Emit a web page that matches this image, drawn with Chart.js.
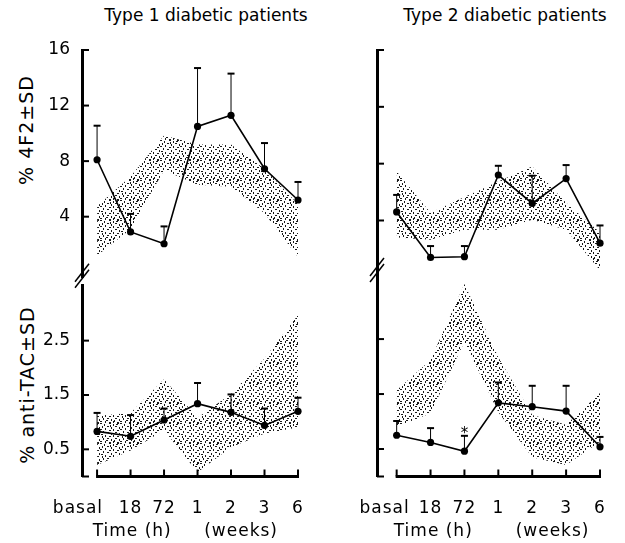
<!DOCTYPE html>
<html>
<head>
<meta charset="utf-8">
<title>4F2 and anti-TAC in diabetic patients</title>
<script src="https://cdn.jsdelivr.net/npm/chart.js@4.4.1/dist/chart.umd.min.js"></script>
<style>
  html, body { margin: 0; padding: 0; background: #fff; }
  body { position: relative; width: 625px; height: 543px; overflow: hidden; font-family: 'DejaVu Sans', sans-serif; color: #000; }
  canvas { position: absolute; }
  .head { position: absolute; width: 300px; top: 5px; text-align: center; font-size: 17px; line-height: 20px; }
  .ytitle { position: absolute; width: 220px; height: 24px; line-height: 24px; text-align: center; font-size: 19px; letter-spacing: 1px; transform: rotate(-90deg); }
</style>
</head>
<body>
<div class="head" style="left:56px">Type 1 diabetic patients</div>
<div class="head" style="left:355px">Type 2 diabetic patients</div>
<div class="ytitle" style="left:-84px;top:118px">% 4F2±SD</div>
<div class="ytitle" style="left:-83px;top:373px">% anti-TAC±SD</div>
<canvas id="c1" width="320" height="300" style="left:0;top:0"></canvas>
<canvas id="c2" width="325" height="300" style="left:300px;top:0"></canvas>
<canvas id="c3" width="320" height="280" style="left:0;top:263px"></canvas>
<canvas id="c4" width="325" height="280" style="left:300px;top:263px"></canvas>
<script>
const timeLabels = ['basal', '18', '72', '1', '2', '3', '6'];

// % 4F2 positive cells
const t1F2Mean = [8.1, 2.9, 2.05, 10.5, 11.3, 7.45, 5.2];
const t1F2Sd   = [2.45, 1.3, 1.25, 4.2, 3.0, 1.85, 1.3];
const t1F2Hi   = [4.75, 6.9, 9.85, 9.2, 9.2, 7.45, 4.9];   // normal range (stippled)
const t1F2Lo   = [1.2, 3.1, 7.35, 6.3, 6.15, 4.25, 1.1];

const t2F2Mean = [4.6, 1.4, 1.45, 7.2, 5.2, 6.95, 2.4];
const t2F2Sd   = [1.2, 0.8, 0.75, 0.65, 1.95, 0.95, 1.25];
const t2F2Hi   = [7.45, 4.55, 5.65, 6.75, 7.8, 5.25, 3.15];
const t2F2Lo   = [2.8, 2.65, 3.35, 3.35, 4.05, 3.35, 0.5];

// % anti-TAC positive cells
const t1TacMean = [0.83, 0.74, 1.04, 1.34, 1.18, 0.94, 1.2];
const t1TacSd   = [0.34, 0.39, 0.21, 0.38, 0.33, 0.31, 0.25];
const t1TacHi   = [1.12, 1.17, 1.79, 1.08, 1.52, 2.17, 2.97];
const t1TacLo   = [0.21, 0.48, 0.85, 0.08, 0.54, 0.79, 0.9];

const t2TacMean = [0.75, 0.62, 0.46, 1.34, 1.27, 1.19, 0.54];
const t2TacSd   = [0.26, 0.26, 0.28, 0.37, 0.38, 0.46, 0.18];
const t2TacHi   = [1.57, 2.12, 3.5, 2.17, 1.12, 0.94, 1.52];
const t2TacLo   = [0.9, 1.15, 2.45, 1.17, 0.35, 0.21, 0.63];
const t2TacMarks = ['', '', '*', '', '', '', ''];

const f2Ticks  = [4, 8, 12, 16];
const tacTicks = [0, 0.5, 1.5, 2.5];   // 0 only gets the little foot stub

// specks inside one 20x20 stipple tile
const stippleDots = [[0,0],[4,1],[9,0],[13,1],[17,0],[2,3],[7,3],[11,4],[15,3],[19,4],
  [0,6],[5,5],[9,7],[13,6],[17,7],[3,8],[7,9],[11,10],[15,9],[19,10],
  [1,11],[5,12],[9,13],[13,12],[17,13],[3,15],[7,15],[11,16],[15,15],[19,16],
  [0,18],[5,18],[9,19],[13,18],[17,19],[2,13],[16,1],[10,2],[6,17],[14,17]];

function stipple(cv) {
  const t = document.createElement('canvas');
  t.width = 20; t.height = 20;
  const g = t.getContext('2d');
  g.fillStyle = 'rgba(0,0,0,0.9)';
  stippleDots.forEach((d, i) => g.fillRect(d[0], d[1], i % 2 ? 1 : 2, i % 2 ? 2 : 1));
  return cv.getContext('2d').createPattern(t, 'repeat');
}

function deco(p) {
  return {
    id: 'deco',
    afterDatasetsDraw(chart) {
      const {ctx, scales: {x, y}} = chart;
      ctx.save();
      ctx.strokeStyle = '#000';
      p.mean.forEach((m, i) => {
        const px = x.getPixelForValue(i);
        const y0 = y.getPixelForValue(m), y1 = y.getPixelForValue(m + p.sd[i]);
        ctx.lineWidth = 1;
        ctx.beginPath(); ctx.moveTo(px, y0); ctx.lineTo(px, y1); ctx.stroke();
        ctx.lineWidth = 2;
        ctx.beginPath(); ctx.moveTo(px - 3.5, y1); ctx.lineTo(px + 3.5, y1); ctx.stroke();
        if (p.marks && p.marks[i]) {
          ctx.fillStyle = '#000';
          ctx.font = '15px "DejaVu Sans"';
          ctx.textAlign = 'center';
          ctx.textBaseline = 'alphabetic';
          ctx.fillText(p.marks[i], px, y1 + 2);
        }
      });
      ctx.restore();
    },
    afterDraw(chart) {
      const {ctx, chartArea: a, scales: {x, y}} = chart;
      ctx.save();
      ctx.strokeStyle = '#000';
      ctx.fillStyle = '#000';
      // inward tick marks
      ctx.lineWidth = 2;
      y.ticks.forEach(t => {
        const py = y.getPixelForValue(t.value);
        ctx.beginPath(); ctx.moveTo(a.left, py); ctx.lineTo(a.left + 7, py); ctx.stroke();
      });
      // axis break //
      if (p.breakDy !== undefined) {
        const by = a.bottom + p.breakDy;
        ctx.lineWidth = 1.5;
        [-3, 3].forEach(o => {
          ctx.beginPath(); ctx.moveTo(a.left - 7, by + o + 9); ctx.lineTo(a.left + 7, by + o - 9); ctx.stroke();
        });
      }
      if (p.xAxis) {
        const yb = a.bottom;
        ctx.lineWidth = 3;
        ctx.beginPath(); ctx.moveTo(x.getPixelForValue(0) - 1, yb); ctx.lineTo(x.getPixelForValue(6) + 1, yb); ctx.stroke();
        ctx.lineWidth = 2;
        timeLabels.forEach((_, i) => {
          const px = x.getPixelForValue(i);
          ctx.beginPath(); ctx.moveTo(px, yb); ctx.lineTo(px, yb - 7); ctx.stroke();
        });
        ctx.font = '17px "DejaVu Sans"';
        ctx.letterSpacing = '1px';
        ctx.textBaseline = 'alphabetic';
        timeLabels.forEach((lab, i) => {
          const px = x.getPixelForValue(i);
          if (i === 0) { ctx.textAlign = 'right'; ctx.fillText(lab, px + p.basalDx, yb + 36.5); }
          else { ctx.textAlign = 'center'; ctx.fillText(lab, px, yb + 36.5); }
        });
        ctx.textAlign = 'center';
        ctx.fillText('Time (h)', x.getPixelForValue(p.hPos), yb + 59.5);
        ctx.fillText('(weeks)', x.getPixelForValue(p.wPos), yb + 59.5);
      }
      ctx.restore();
    }
  };
}

function panel(id, p) {
  const cv = document.getElementById(id);
  const pts = arr => arr.map((v, i) => ({x: i, y: v}));
  new Chart(cv, {
    type: 'line',
    data: {
      datasets: [
        { data: pts(p.mean), borderColor: '#000', borderWidth: 1.6, pointRadius: 3.6,
          pointBackgroundColor: '#000', pointBorderWidth: 0, fill: false, clip: false },
        { data: pts(p.hi), borderWidth: 0, borderColor: 'rgba(0,0,0,0)', pointRadius: 0,
          fill: '+1', backgroundColor: stipple(cv), clip: false },
        { data: pts(p.lo), borderWidth: 0, borderColor: 'rgba(0,0,0,0)', pointRadius: 0, fill: false, clip: false }
      ]
    },
    options: {
      responsive: false,
      animation: false,
      events: [],
      layout: { padding: { left: 0, right: p.padR, top: p.padT, bottom: p.padB } },
      plugins: { legend: { display: false }, tooltip: { enabled: false } },
      scales: {
        x: { type: 'linear', min: p.xMin, max: 6, display: false },
        y: {
          min: p.yMin, max: p.yMax,
          afterBuildTicks: s => { s.ticks = p.ticks.map(v => ({ value: v })); },
          afterFit: s => { s.width = p.axisX; },
          border: { display: true, color: '#000', width: 3 },
          grid: { display: true, drawOnChartArea: false, drawTicks: false },
          ticks: {
            display: p.labels, padding: 12, color: '#000',
            font: { family: 'DejaVu Sans', size: 17 },
            callback: v => (v === 0 ? '' : String(v))
          }
        }
      }
    },
    plugins: [deco(p)]
  });
}

panel('c1', { mean: t1F2Mean, sd: t1F2Sd, hi: t1F2Hi, lo: t1F2Lo, ticks: f2Ticks, labels: true,
  yMin: -0.4, yMax: 16, axisX: 82, xMin: -0.45, padR: 22, padT: 50, padB: 17, breakDy: -2 });
panel('c2', { mean: t2F2Mean, sd: t2F2Sd, hi: t2F2Hi, lo: t2F2Lo, ticks: f2Ticks, labels: false,
  yMin: -0.4, yMax: 16, axisX: 77, xMin: -0.58, padR: 25, padT: 50, padB: 17, breakDy: -13 });
panel('c3', { mean: t1TacMean, sd: t1TacSd, hi: t1TacHi, lo: t1TacLo, ticks: tacTicks, labels: true,
  yMin: 0, yMax: 3.52, axisX: 82, xMin: -0.45, padR: 22, padT: 20, padB: 66.5,
  xAxis: true, basalDx: 6, hPos: 1.05, wPos: 4.3 });
panel('c4', { mean: t2TacMean, sd: t2TacSd, hi: t2TacHi, lo: t2TacLo, marks: t2TacMarks, ticks: tacTicks, labels: false,
  yMin: 0, yMax: 3.52, axisX: 77, xMin: -0.58, padR: 25, padT: 20, padB: 66.5,
  xAxis: true, basalDx: 13, hPos: 1.08, wPos: 4.6 });
</script>
</body>
</html>
